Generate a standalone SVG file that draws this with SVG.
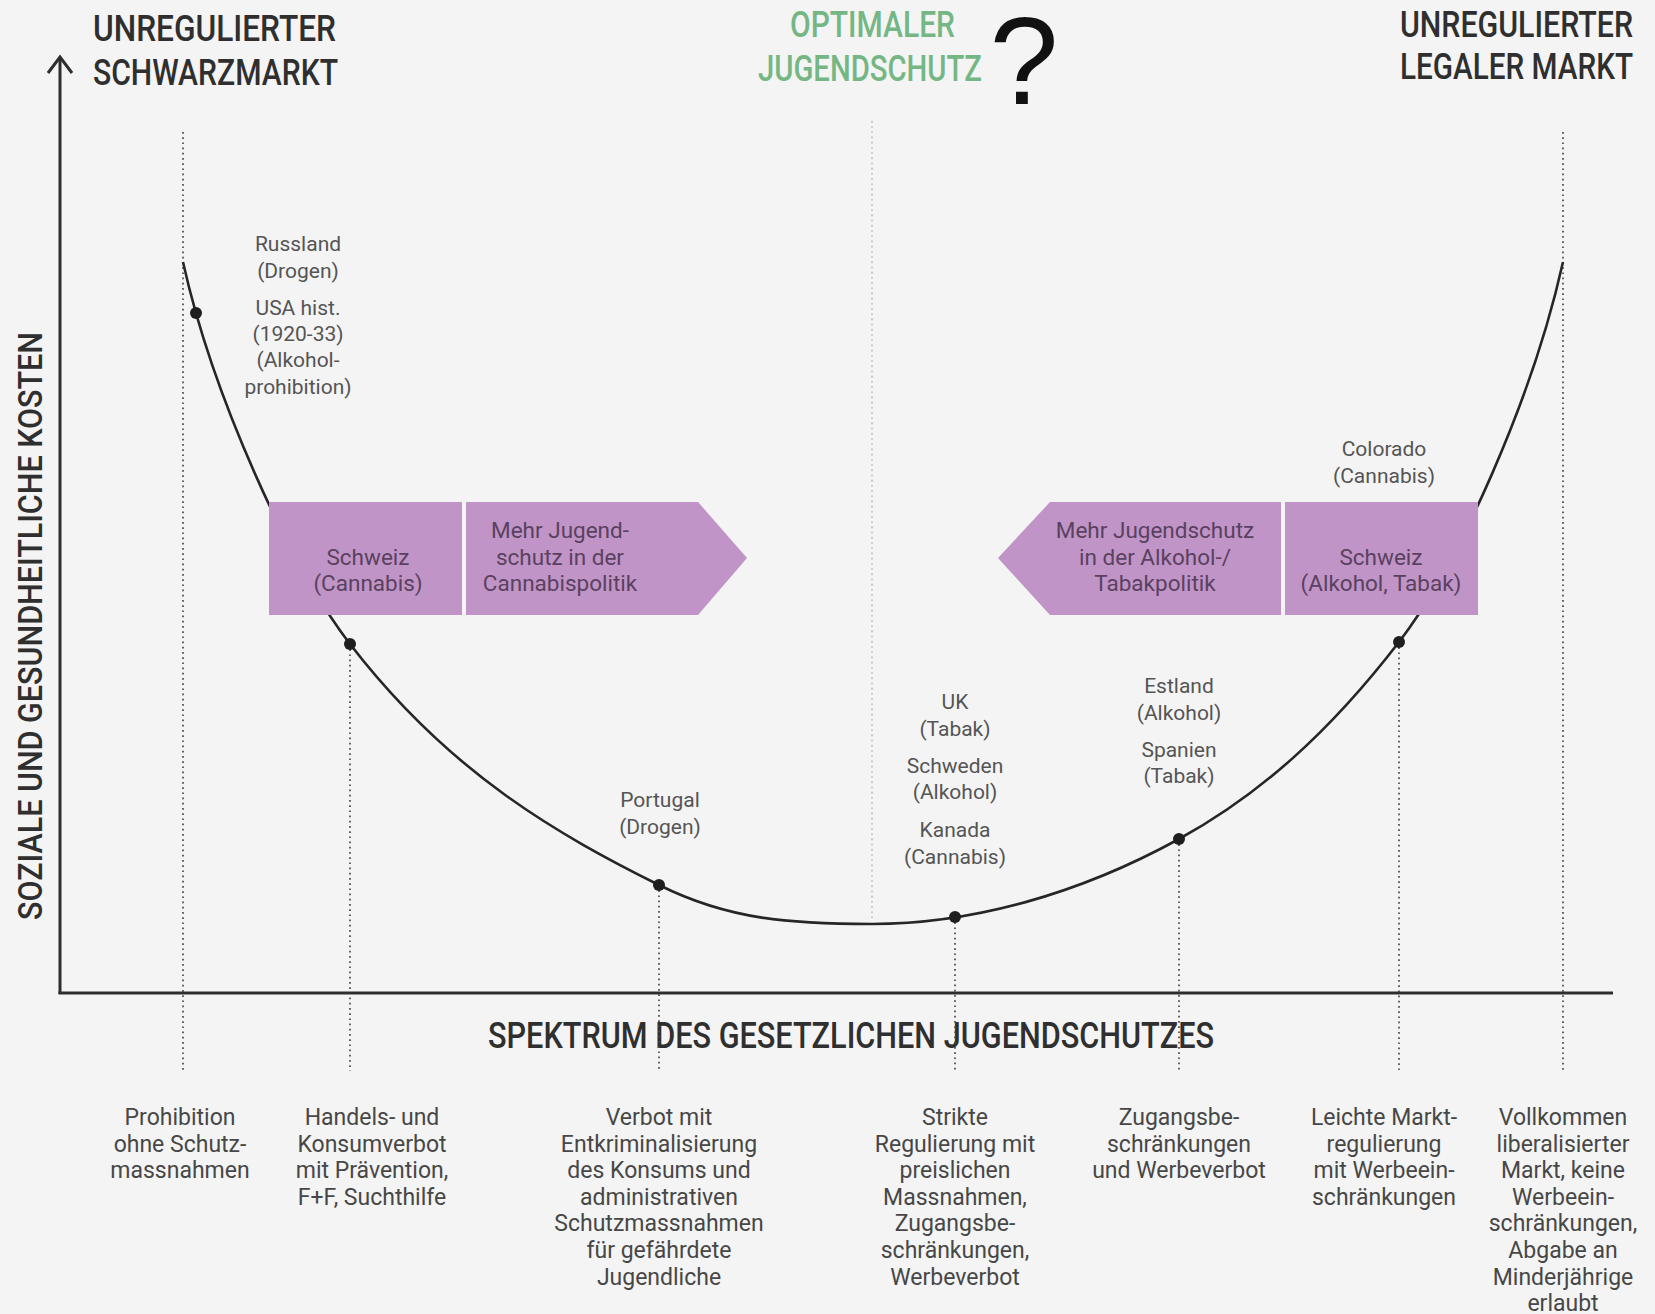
<svg xmlns="http://www.w3.org/2000/svg" width="1655" height="1314" viewBox="0 0 1655 1314">
  <style>
    .title { font-family: Roboto, "Liberation Sans", sans-serif; font-weight: 500; font-size: 37px; fill: #2f2f2f; }
    .green { fill: #74b784; }
    .axis-label { font-family: Roboto, "Liberation Sans", sans-serif; font-weight: 500; font-size: 34px; fill: #2f2f2f; }
    .pt { font-family: Roboto, "Liberation Sans", sans-serif; font-size: 21px; fill: #555; text-anchor: middle; }
    .box-t { font-family: Roboto, "Liberation Sans", sans-serif; font-size: 22.5px; fill: #5a4160; text-anchor: middle; }
    .bot { font-family: Roboto, "Liberation Sans", sans-serif; font-size: 23px; fill: #474747; text-anchor: middle; }
    .axis { stroke: #2e2e2e; stroke-width: 3; fill: none; }
    .dots { stroke: #4a4a4a; stroke-width: 1.7; stroke-dasharray: 1.7 3.5; fill: none; }
    .dots-green { stroke: #a9c4ae; stroke-width: 1.6; stroke-dasharray: 1.6 3.6; fill: none; }
    .curve { stroke: #262626; stroke-width: 2.6; fill: none; }
    .dot { fill: #1e1e1e; }
    .box { fill: #c094c6; }
  </style>

  <rect width="1655" height="1314" fill="#f4f4f4"/>

  <!-- headings -->
  <g id="title-black-market">
    <text class="title" x="93" y="41" textLength="243" lengthAdjust="spacingAndGlyphs">UNREGULIERTER</text>
    <text class="title" x="93" y="85" textLength="245" lengthAdjust="spacingAndGlyphs">SCHWARZMARKT</text>
  </g>
  <g id="title-optimum">
    <text class="title green" x="790" y="37" textLength="165" lengthAdjust="spacingAndGlyphs">OPTIMALER</text>
    <text class="title green" x="758" y="81" textLength="224" lengthAdjust="spacingAndGlyphs">JUGENDSCHUTZ</text>
    <text x="1024" y="104" font-family="'Liberation Sans', Arial, sans-serif" font-size="124" fill="#111" text-anchor="middle">?</text>
  </g>
  <g id="title-legal-market">
    <text class="title" x="1400" y="37" textLength="233" lengthAdjust="spacingAndGlyphs">UNREGULIERTER</text>
    <text class="title" x="1400" y="79" textLength="233" lengthAdjust="spacingAndGlyphs">LEGALER MARKT</text>
  </g>
  <g id="y-axis-label">
    <text class="axis-label" transform="translate(42,626) rotate(-90)" text-anchor="middle" textLength="588" lengthAdjust="spacingAndGlyphs">SOZIALE UND GESUNDHEITLICHE KOSTEN</text>
  </g>
  <g id="x-axis-label">
    <text class="title" x="488" y="1048" textLength="726" lengthAdjust="spacingAndGlyphs">SPEKTRUM DES GESETZLICHEN JUGENDSCHUTZES</text>
  </g>

  <!-- axes, guide lines and cost curve -->
  <g id="connectors">
    <line class="dots" x1="183" y1="132" x2="183" y2="1071"/>
    <line class="dots" x1="350" y1="644" x2="350" y2="1071"/>
    <line class="dots" x1="659" y1="885" x2="659" y2="1071"/>
    <line class="dots-green" x1="872" y1="121" x2="872" y2="918"/>
    <line class="dots" x1="955" y1="917" x2="955" y2="1071"/>
    <line class="dots" x1="1179" y1="839" x2="1179" y2="1071"/>
    <line class="dots" x1="1399" y1="642" x2="1399" y2="1071"/>
    <line class="dots" x1="1563" y1="132" x2="1563" y2="1071"/>

    <line class="axis" x1="60" y1="58" x2="60" y2="994"/>
    <polyline class="axis" points="48,73 60,57 72,73"/>
    <line class="axis" x1="58.5" y1="993" x2="1613" y2="993"/>

    <path class="curve" d="M183,262 C213,397 290,566 350,644 C450,774 559,835 659,885 C729,920 792,924 872,924 C972,924 1079,894 1179,839 C1259,795 1329,733 1399,642 C1459,564 1533,397 1563,262"/>
    <circle class="dot" cx="196" cy="313" r="6"/>
    <circle class="dot" cx="350" cy="644" r="6"/>
    <circle class="dot" cx="659" cy="885" r="6"/>
    <circle class="dot" cx="955" cy="917" r="6"/>
    <circle class="dot" cx="1179" cy="839" r="6"/>
    <circle class="dot" cx="1399" cy="642" r="6"/>
  </g>

  <!-- policy boxes -->
  <g id="box-schweiz-cannabis">
    <rect class="box" x="269" y="502" width="193" height="113"/>
    <text class="box-t" x="368" y="565">Schweiz</text>
    <text class="box-t" x="368" y="591">(Cannabis)</text>
  </g>
  <g id="arrow-cannabis">
    <polygon class="box" points="466,502 698,502 747,558 698,615 466,615"/>
    <text class="box-t" x="560" y="538">Mehr Jugend-</text>
    <text class="box-t" x="560" y="565">schutz in der</text>
    <text class="box-t" x="560" y="591">Cannabispolitik</text>
  </g>
  <g id="arrow-alkohol-tabak">
    <polygon class="box" points="1281,502 1050,502 998,558 1050,615 1281,615"/>
    <text class="box-t" x="1155" y="538">Mehr Jugendschutz</text>
    <text class="box-t" x="1155" y="565">in der Alkohol-/</text>
    <text class="box-t" x="1155" y="591">Tabakpolitik</text>
  </g>
  <g id="box-schweiz-alkohol">
    <rect class="box" x="1285" y="502" width="193" height="113"/>
    <text class="box-t" x="1381" y="565">Schweiz</text>
    <text class="box-t" x="1381" y="591">(Alkohol, Tabak)</text>
  </g>

  <!-- country labels on the curve -->
  <g id="label-russland">
    <text class="pt" x="298" y="251">Russland</text>
    <text class="pt" x="298" y="278">(Drogen)</text>
    <text class="pt" x="298" y="315">USA hist.</text>
    <text class="pt" x="298" y="341">(1920-33)</text>
    <text class="pt" x="298" y="367">(Alkohol-</text>
    <text class="pt" x="298" y="394">prohibition)</text>
  </g>
  <g id="label-colorado">
    <text class="pt" x="1384" y="456">Colorado</text>
    <text class="pt" x="1384" y="483">(Cannabis)</text>
  </g>
  <g id="label-portugal">
    <text class="pt" x="660" y="807">Portugal</text>
    <text class="pt" x="660" y="834">(Drogen)</text>
  </g>
  <g id="label-uk">
    <text class="pt" x="955" y="709">UK</text>
    <text class="pt" x="955" y="736">(Tabak)</text>
    <text class="pt" x="955" y="773">Schweden</text>
    <text class="pt" x="955" y="799">(Alkohol)</text>
    <text class="pt" x="955" y="837">Kanada</text>
    <text class="pt" x="955" y="864">(Cannabis)</text>
  </g>
  <g id="label-estland">
    <text class="pt" x="1179" y="693">Estland</text>
    <text class="pt" x="1179" y="720">(Alkohol)</text>
    <text class="pt" x="1179" y="757">Spanien</text>
    <text class="pt" x="1179" y="783">(Tabak)</text>
  </g>

  <!-- regulation levels along the x axis -->
  <g id="level-1">
    <text class="bot" x="180" y="1125">Prohibition</text>
    <text class="bot" x="180" y="1151.6">ohne Schutz-</text>
    <text class="bot" x="180" y="1178.2">massnahmen</text>
  </g>
  <g id="level-2">
    <text class="bot" x="372" y="1125">Handels- und</text>
    <text class="bot" x="372" y="1151.6">Konsumverbot</text>
    <text class="bot" x="372" y="1178.2">mit Prävention,</text>
    <text class="bot" x="372" y="1204.8">F+F, Suchthilfe</text>
  </g>
  <g id="level-3">
    <text class="bot" x="659" y="1125">Verbot mit</text>
    <text class="bot" x="659" y="1151.6">Entkriminalisierung</text>
    <text class="bot" x="659" y="1178.2">des Konsums und</text>
    <text class="bot" x="659" y="1204.8">administrativen</text>
    <text class="bot" x="659" y="1231.4">Schutzmassnahmen</text>
    <text class="bot" x="659" y="1258">für gefährdete</text>
    <text class="bot" x="659" y="1284.6">Jugendliche</text>
  </g>
  <g id="level-4">
    <text class="bot" x="955" y="1125">Strikte</text>
    <text class="bot" x="955" y="1151.6">Regulierung mit</text>
    <text class="bot" x="955" y="1178.2">preislichen</text>
    <text class="bot" x="955" y="1204.8">Massnahmen,</text>
    <text class="bot" x="955" y="1231.4">Zugangsbe-</text>
    <text class="bot" x="955" y="1258">schränkungen,</text>
    <text class="bot" x="955" y="1284.6">Werbeverbot</text>
  </g>
  <g id="level-5">
    <text class="bot" x="1179" y="1125">Zugangsbe-</text>
    <text class="bot" x="1179" y="1151.6">schränkungen</text>
    <text class="bot" x="1179" y="1178.2">und Werbeverbot</text>
  </g>
  <g id="level-6">
    <text class="bot" x="1384" y="1125">Leichte Markt-</text>
    <text class="bot" x="1384" y="1151.6">regulierung</text>
    <text class="bot" x="1384" y="1178.2">mit Werbeein-</text>
    <text class="bot" x="1384" y="1204.8">schränkungen</text>
  </g>
  <g id="level-7">
    <text class="bot" x="1563" y="1125">Vollkommen</text>
    <text class="bot" x="1563" y="1151.6">liberalisierter</text>
    <text class="bot" x="1563" y="1178.2">Markt, keine</text>
    <text class="bot" x="1563" y="1204.8">Werbeein-</text>
    <text class="bot" x="1563" y="1231.4">schränkungen,</text>
    <text class="bot" x="1563" y="1258">Abgabe an</text>
    <text class="bot" x="1563" y="1284.6">Minderjährige</text>
    <text class="bot" x="1563" y="1311">erlaubt</text>
  </g>
</svg>
